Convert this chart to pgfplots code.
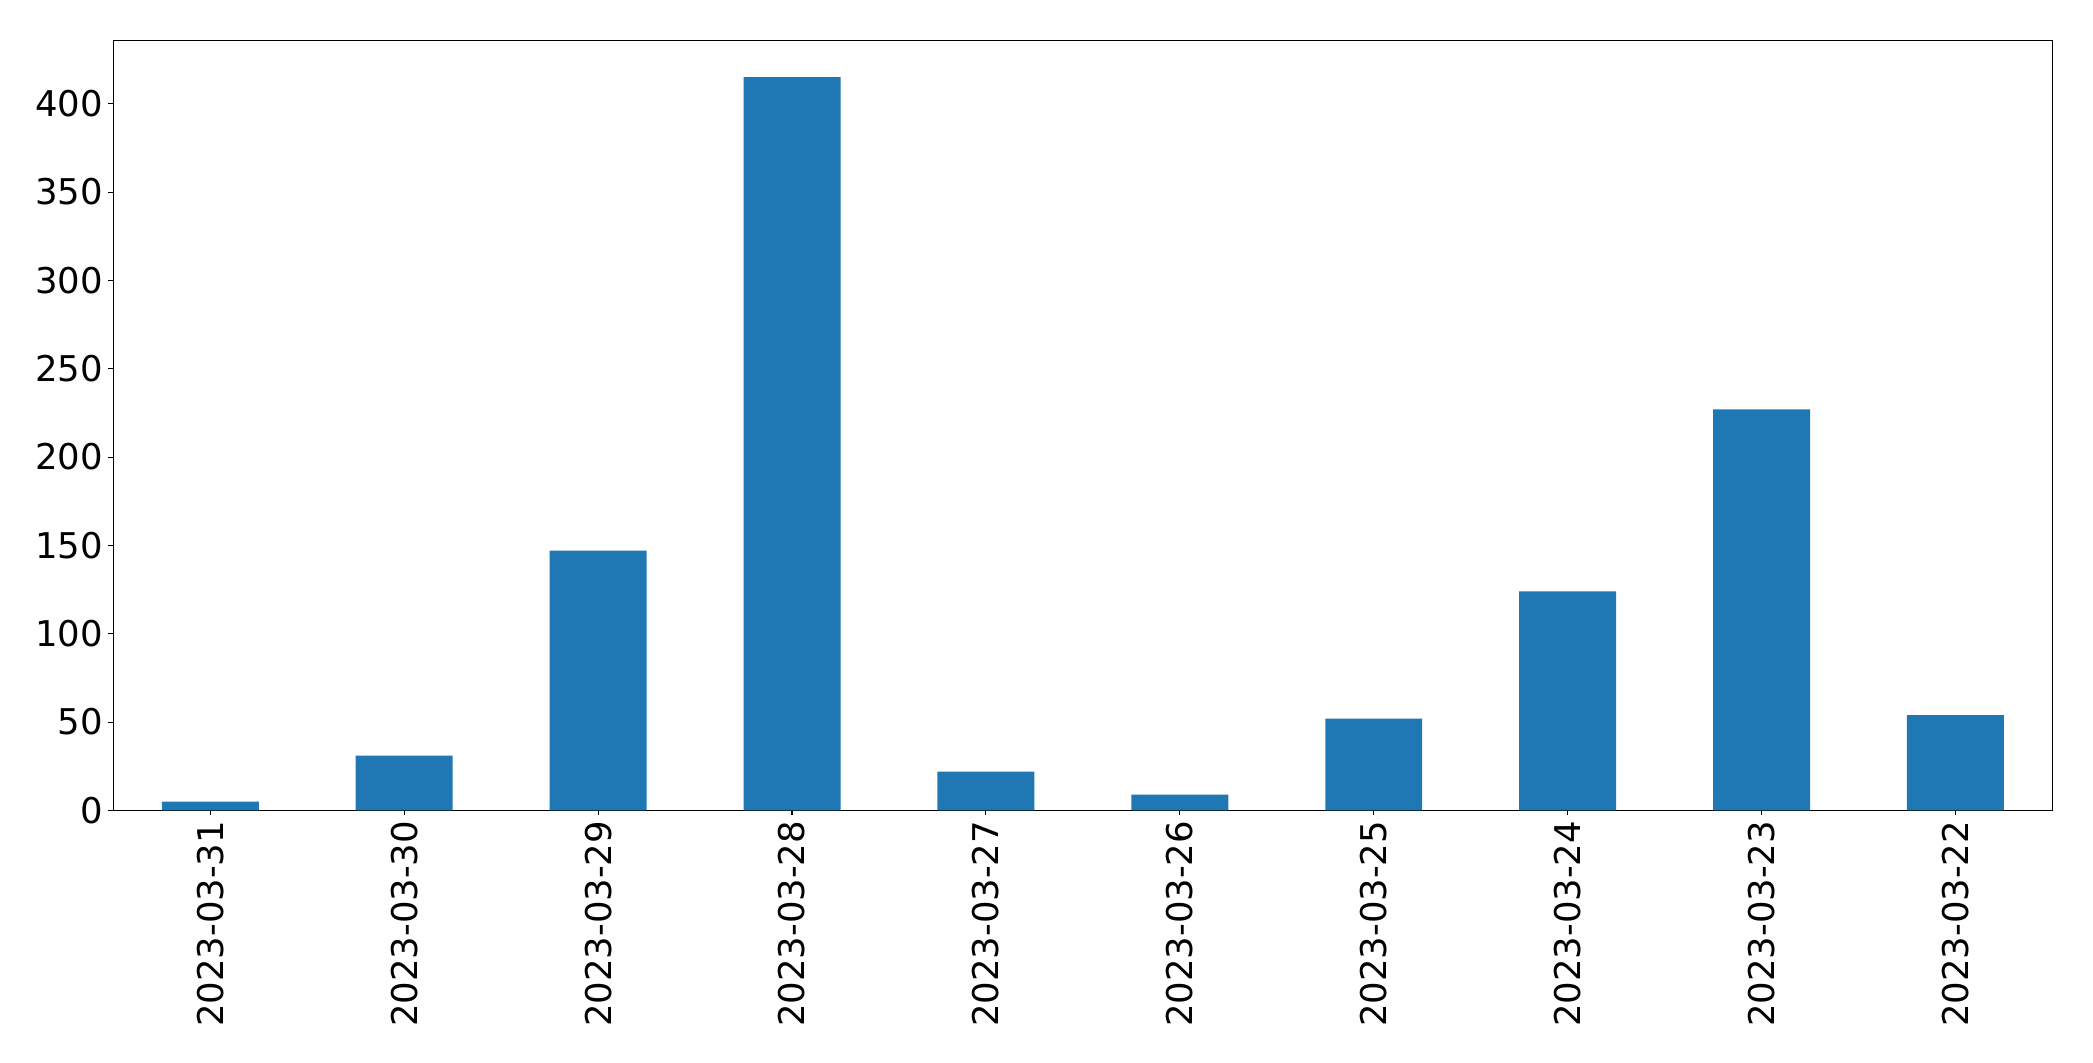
\documentclass[border=0pt]{standalone}
\usepackage{pgfplots}
\pgfplotsset{compat=1.18}
\usepackage{fontspec}
\setmainfont{DejaVu Sans}
\definecolor{mplblue}{HTML}{1F77B4}
\begin{document}
\begin{tikzpicture}
\begin{axis}[
  scale only axis,
  width=1394.6pt, height=553.7pt,
  xmin=-0.5, xmax=9.5, ymin=0, ymax=435.75,
  xtick={0,...,9},
  xticklabels={2023-03-31,2023-03-30,2023-03-29,2023-03-28,2023-03-27,2023-03-26,2023-03-25,2023-03-24,2023-03-23,2023-03-22},
  ytick={0,50,...,400},
  x tick label style={rotate=90, anchor=east, font=\fontsize{25.5}{30}\selectfont},
  y tick label style={font=\fontsize{25.5}{30}\selectfont},
  /pgf/number format/assume math mode=true,
  tick align=outside,
  xtick pos=bottom, ytick pos=left,
  major tick length=3.5pt,
  tick style={black, line width=0.8pt},
  axis line style={black, line width=0.8pt},
  xticklabel shift=0.5pt, yticklabel shift=0.5pt,
]
\addplot[ybar, bar width=0.5, fill=mplblue, draw=none] coordinates {
(0,5) (1,31) (2,147) (3,415) (4,22) (5,9) (6,52) (7,124) (8,227) (9,54)
};
\end{axis}
\path ([shift={(-22pt,-22pt)}]current bounding box.south west) rectangle ([shift={(28.8pt,28.8pt)}]current bounding box.north east);
\end{tikzpicture}
\end{document}
